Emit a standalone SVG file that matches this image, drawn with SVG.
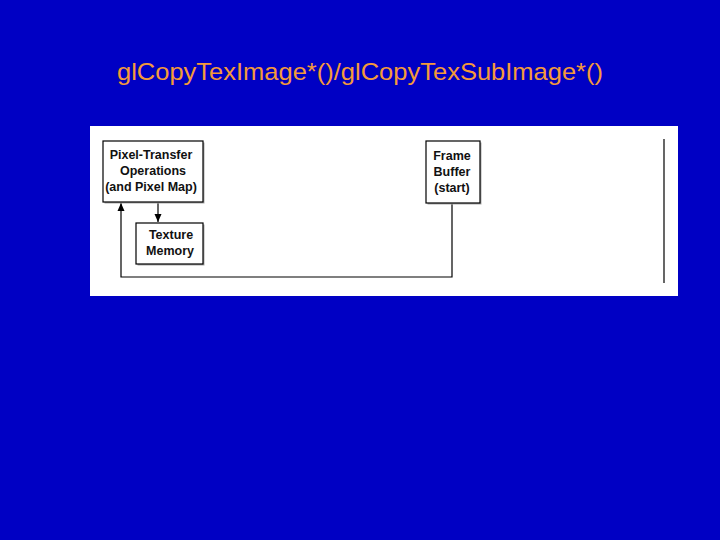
<svg xmlns="http://www.w3.org/2000/svg" width="720" height="540" viewBox="0 0 720 540">
<style>
.box{fill:#fff;stroke:#000;stroke-width:1.2}
.shadow{fill:#aaa}
.lbl{font-family:"Liberation Sans",Arial,sans-serif;font-weight:bold;font-size:12.5px;text-anchor:middle;fill:#111}
.ln{fill:none;stroke:#000;stroke-width:1.2}
</style>
<defs>
<marker id="ah" markerWidth="9" markerHeight="9" refX="8" refY="4.5" orient="auto" markerUnits="userSpaceOnUse">
<path d="M0,1 L8,4.5 L0,8 z" fill="#000"/>
</marker>
</defs>
<rect width="720" height="540" fill="#0000c4"/>
<text x="360" y="80" font-family="'Liberation Sans',Arial,sans-serif" font-size="24" fill="#f49a3a" text-anchor="middle" textLength="486" lengthAdjust="spacingAndGlyphs">glCopyTexImage*()/glCopyTexSubImage*()</text>
<rect x="90" y="126" width="588" height="170" fill="#fff"/>
<g id="connectors">
<path class="ln" d="M158,202 V222" marker-end="url(#ah)"/>
<path class="ln" d="M452,203 V277 H121 V203" marker-end="url(#ah)"/>
<path class="ln" d="M664,139 V283"/>
</g>
<g id="pixel-transfer">
<rect class="shadow" x="104.5" y="142.5" width="100" height="61"/>
<rect class="box" x="103" y="141" width="100" height="61"/>
<text class="lbl" x="151" y="159">Pixel-Transfer</text>
<text class="lbl" x="153" y="175">Operations</text>
<text class="lbl" x="151" y="191">(and Pixel Map)</text>
</g>
<g id="texture-memory">
<rect class="shadow" x="137.5" y="224.5" width="67" height="41"/>
<rect class="box" x="136" y="223" width="67" height="41"/>
<text class="lbl" x="171" y="239">Texture</text>
<text class="lbl" x="170" y="255">Memory</text>
</g>
<g id="frame-buffer">
<rect class="shadow" x="427.5" y="142.5" width="54" height="62"/>
<rect class="box" x="426" y="141" width="54" height="62"/>
<text class="lbl" x="452" y="160">Frame</text>
<text class="lbl" x="452" y="176">Buffer</text>
<text class="lbl" x="452" y="192">(start)</text>
</g>
</svg>
